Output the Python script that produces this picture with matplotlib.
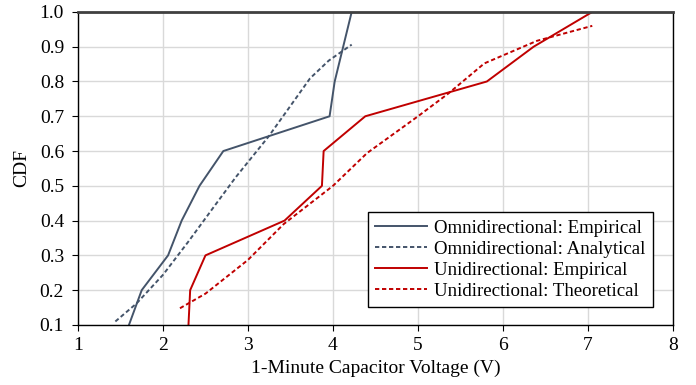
import matplotlib.pyplot as plt
from matplotlib.ticker import FormatStrFormatter

plt.rcParams['font.family'] = ['Liberation Serif', 'DejaVu Serif']

# Omnidirectional
omni_emp_x = [1.60, 1.75, 2.06, 2.22, 2.43, 2.71, 3.96, 4.02, 4.12, 4.22]
omni_emp_y = [0.10, 0.20, 0.30, 0.40, 0.50, 0.60, 0.70, 0.80, 0.90, 1.00]
omni_ana_x = [1.44, 1.69, 2.00, 2.30, 2.60, 2.86, 3.24, 3.50, 3.73, 3.95, 4.22]
omni_ana_y = [0.11, 0.162, 0.244, 0.34, 0.44, 0.526, 0.641, 0.73, 0.809, 0.86, 0.906]

# Unidirectional
uni_emp_x = [2.30, 2.32, 2.50, 3.43, 3.87, 3.89, 4.38, 5.81, 6.36, 7.05]
uni_emp_y = [0.10, 0.20, 0.30, 0.40, 0.50, 0.60, 0.70, 0.80, 0.90, 1.00]
uni_theo_x = [2.20, 2.50, 3.00, 3.42, 4.00, 4.40, 5.00, 5.36, 5.78, 6.40, 7.05]
uni_theo_y = [0.148, 0.19, 0.287, 0.39, 0.50, 0.594, 0.70, 0.766, 0.852, 0.917, 0.96]

omni_color = '#44546a'
uni_color = '#c00000'
dash = (0, (2.2, 1.4))
fs = 14

fig = plt.figure(figsize=(6.96, 3.85), dpi=100)
ax = fig.add_axes([0.112, 0.156, 0.855, 0.813])

ax.plot(omni_emp_x, omni_emp_y, color=omni_color, lw=1.4, label='Omnidirectional: Empirical')
ax.plot(omni_ana_x, omni_ana_y, color=omni_color, lw=1.4, linestyle=dash, label='Omnidirectional: Analytical')
ax.plot(uni_emp_x, uni_emp_y, color=uni_color, lw=1.4, label='Unidirectional: Empirical')
ax.plot(uni_theo_x, uni_theo_y, color=uni_color, lw=1.4, linestyle=dash, label='Unidirectional: Theoretical')

ax.set_xlim(1, 8)
ax.set_ylim(0.1, 1.0)
ax.set_xticks(range(1, 9))
ax.set_yticks([0.1, 0.2, 0.3, 0.4, 0.5, 0.6, 0.7, 0.8, 0.9, 1.0])
ax.yaxis.set_major_formatter(FormatStrFormatter('%.1f'))
ax.grid(True, color='#d9d9d9', lw=1.0)
ax.set_axisbelow(True)
ax.tick_params(labelsize=fs, direction='out', length=4, color='black')
ax.tick_params(axis='x', pad=5)
ax.tick_params(axis='y', pad=6)

ax.spines['top'].set_color('#404040')
ax.spines['top'].set_linewidth(2)
for s in ['left', 'bottom', 'right']:
    ax.spines[s].set_color('black')
    ax.spines[s].set_linewidth(1.0)

ax.set_xlabel('1-Minute Capacitor Voltage (V)', fontsize=fs, labelpad=4)
ax.set_ylabel('CDF', fontsize=fs, labelpad=7)

leg = ax.legend(loc='lower right', bbox_to_anchor=(0.966, 0.058), borderaxespad=0,
                fontsize=13.6, handlelength=2.75, fancybox=False, framealpha=1,
                edgecolor='black', borderpad=0.38, labelspacing=0.2, handletextpad=0.4)
leg.get_frame().set_linewidth(1.0)

fig.savefig('out.png', dpi=100)
